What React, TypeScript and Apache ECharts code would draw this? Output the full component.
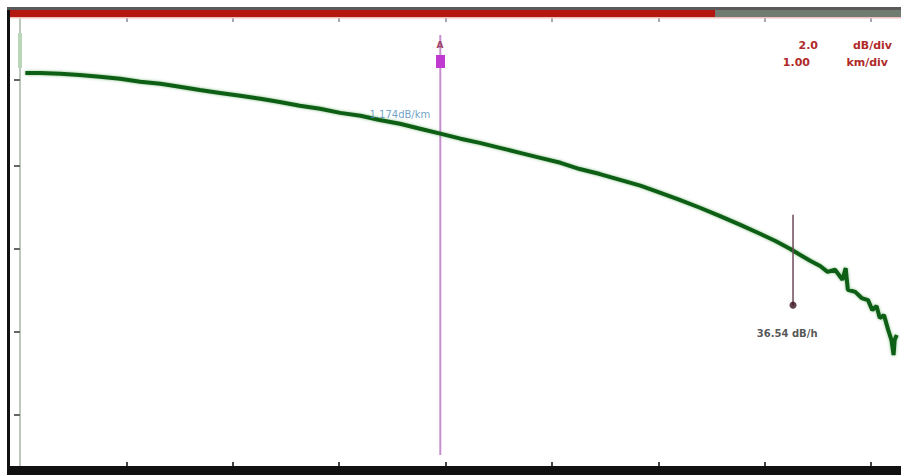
import React, { useEffect, useRef } from "react";
import * as echarts from "echarts";

// Trace: distance (km) vs relative level (dB)
const distanceKm = [
  0.05, 0.19, 0.38, 0.56, 0.75, 0.94, 1.13, 1.32, 1.5, 1.69, 1.88, 2.07, 2.26, 2.44, 2.63, 2.82, 3.01,
  3.2, 3.38, 3.57, 3.76, 3.95, 4.14, 4.32, 4.51, 4.7, 4.89, 5.08, 5.26, 5.45, 5.64, 5.83, 6.02, 6.2,
  6.39, 6.58, 6.77, 6.96, 7.1, 7.24, 7.33, 7.43, 7.52, 7.59, 7.66, 7.73, 7.76, 7.78, 7.85, 7.91, 7.97,
  8.01, 8.05, 8.08, 8.12, 8.16, 8.19, 8.21, 8.22, 8.24,
];
const traceDb = [
  9.47, 9.47, 9.45, 9.42, 9.38, 9.33, 9.26, 9.21, 9.14, 9.06, 8.99, 8.92, 8.85, 8.77, 8.68, 8.61, 8.51,
  8.44, 8.34, 8.25, 8.13, 8.01, 7.89, 7.79, 7.67, 7.55, 7.43, 7.31, 7.16, 7.04, 6.9, 6.76, 6.59, 6.42,
  6.23, 6.03, 5.82, 5.6, 5.43, 5.24, 5.1, 4.95, 4.83, 4.69, 4.74, 4.5, 4.78, 4.26, 4.21, 4.06, 4.01,
  3.77, 3.87, 3.58, 3.65, 3.29, 3.05, 2.69, 3.05, 3.17,
];
const launchKm = [0.0, 0.0];
const launchDb = [10.43, 9.59];

const distanceTicks = [1, 2, 3, 4, 5, 6, 7, 8];
const levelTicks = [1.25, 3.25, 5.25, 7.25, 9.3];

const cursorKm = 3.95;
const cursorDb = [10.38, 0.29];
const slopeLabel = "1.174dB/km";
const slopeLabelPos = [3.57, 8.46];

const eventKm = 7.265;
const eventDb = [6.06, 3.89];
const eventLabel = "36.54 dB/h";
const eventLabelPos = [7.21, 3.22];

const scaleTexts = [
  { value: "2.0", unit: "dB/div" },
  { value: "1.00", unit: "km/div" },
];

export default function App() {
  const ref = useRef<HTMLDivElement>(null);
  useEffect(() => {
    if (!ref.current) return;
    const chart = echarts.init(ref.current, null, { renderer: "svg" });
    const trace = distanceKm.map((d, i) => [d, traceDb[i]]);
    const launch = launchKm.map((d, i) => [d, launchDb[i]]);
    chart.setOption({
      animation: false,
      backgroundColor: "#ffffff",
      grid: { left: 18, right: 2, top: 18, bottom: 8 },
      xAxis: [
        {
          type: "value",
          min: -0.019,
          max: 8.261,
          position: "bottom",
          axisLine: { show: false },
          axisLabel: { show: false },
          splitLine: { show: false },
          axisTick: {
            show: true,
            inside: true,
            length: 5,
            customValues: distanceTicks,
            lineStyle: { color: "#444", width: 2 },
          },
        },
        {
          type: "value",
          min: -0.019,
          max: 8.261,
          position: "top",
          axisLine: { show: false },
          axisLabel: { show: false },
          splitLine: { show: false },
          axisTick: {
            show: true,
            inside: true,
            length: 4,
            customValues: distanceTicks,
            lineStyle: { color: "#8a8a9a", width: 1.5 },
          },
        },
      ],
      yAxis: {
        type: "value",
        min: 0,
        max: 10.79,
        axisLine: { show: true, lineStyle: { color: "#bcc9bc", width: 2 } },
        axisLabel: { show: false },
        splitLine: { show: false },
        axisTick: {
          show: true,
          inside: false,
          length: 6,
          customValues: levelTicks,
          lineStyle: { color: "#666", width: 2 },
        },
      },
      series: [
        {
          type: "line",
          data: launch,
          symbol: "none",
          lineStyle: { color: "#b9d6b9", width: 4 },
          z: 3,
        },
        {
          type: "line",
          data: [
            [cursorKm, cursorDb[0]],
            [cursorKm, cursorDb[1]],
          ],
          symbol: "none",
          lineStyle: { color: "#c58fcf", width: 2 },
          z: 2,
        },
        {
          type: "line",
          data: trace,
          symbol: "none",
          lineStyle: {
            color: "#0f5e14",
            width: 4,
            shadowColor: "rgba(60,150,60,0.6)",
            shadowBlur: 3,
          },
          z: 4,
        },
        {
          type: "line",
          data: [
            [eventKm, eventDb[0]],
            [eventKm, eventDb[1]],
          ],
          symbol: "none",
          lineStyle: { color: "#6e4a5a", width: 1.5 },
          z: 5,
        },
        {
          type: "scatter",
          data: [[eventKm, eventDb[1]]],
          symbolSize: 7,
          itemStyle: { color: "#3a1020" },
          z: 6,
        },
        {
          type: "scatter",
          data: [eventLabelPos],
          symbolSize: 0,
          silent: true,
          label: {
            show: true,
            position: "inside",
            formatter: eventLabel,
            color: "#2a2a2a",
            fontSize: 10,
            fontWeight: "bold",
            fontFamily: "DejaVu Sans",
          },
          z: 6,
        },
        {
          type: "scatter",
          data: [slopeLabelPos],
          symbolSize: 0,
          silent: true,
          label: {
            show: true,
            position: "inside",
            formatter: slopeLabel,
            color: "#4a8ab8",
            fontSize: 10,
            fontFamily: "DejaVu Sans",
          },
          z: 6,
        },
      ],
      graphic: [
        // frame: left and bottom black borders
        { type: "rect", z: 100, shape: { x: 7, y: 7, width: 3, height: 468 }, style: { fill: "#111" } },
        { type: "rect", z: 100, shape: { x: 7, y: 466, width: 894, height: 9 }, style: { fill: "#111" } },
        // top status bar
        { type: "rect", z: 100, shape: { x: 7, y: 7, width: 894, height: 3 }, style: { fill: "#5a5a5a" } },
        { type: "rect", z: 100, shape: { x: 10, y: 10, width: 705, height: 7 }, style: { fill: "#b3170f" } },
        { type: "rect", z: 100, shape: { x: 715, y: 10, width: 186, height: 7 }, style: { fill: "#707c72" } },
        { type: "rect", z: 100, shape: { x: 10, y: 17, width: 891, height: 1.5 }, style: { fill: "#f0c0c0" } },
        // cursor flags
        {
          type: "text",
          z: 100,
          x: 440,
          y: 40,
          style: { text: "A", fill: "#a04468", font: "bold 9px DejaVu Sans", align: "center" },
        },
        { type: "rect", z: 100, shape: { x: 436, y: 55, width: 9, height: 13 }, style: { fill: "#c03ad2" } },
        // scale readout
        ...scaleTexts.flatMap((t, i) => [
          {
            type: "text",
            z: 100,
            x: 818 - (i === 1 ? 8 : 0),
            y: 40 + i * 17,
            style: {
              text: t.value,
              fill: "#b02a2a",
              font: "bold 11px DejaVu Sans",
              align: "right",
            },
          },
          {
            type: "text",
            z: 100,
            x: 892 - (i === 1 ? 4 : 0),
            y: 40 + i * 17,
            style: {
              text: t.unit,
              fill: "#b02a2a",
              font: "bold 11px DejaVu Sans",
              align: "right",
            },
          },
        ]),
      ],
    });
    return () => chart.dispose();
  }, []);
  return (
    <div
      ref={ref}
      style={{ position: "fixed", left: 0, top: 0, width: 901, height: 475, background: "#fff" }}
    />
  );
}
